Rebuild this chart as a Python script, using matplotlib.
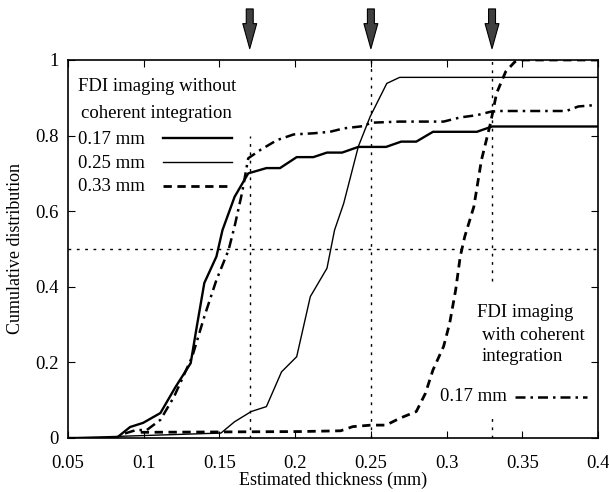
import numpy as np
import matplotlib.pyplot as plt

plt.rcParams['font.family'] = ['Liberation Serif', 'DejaVu Serif']

# 0.17 mm, without coherent integration
x_a = [0.05, 0.082, 0.091, 0.0996, 0.111, 0.121, 0.131, 0.135, 0.140, 0.148, 0.152,
       0.160, 0.169, 0.181, 0.19, 0.201, 0.212, 0.221, 0.231, 0.2417, 0.26, 0.27,
       0.28, 0.291, 0.32, 0.33, 0.4]
y_a = [0, 0, 0.029, 0.04, 0.066, 0.135, 0.198, 0.294, 0.41, 0.48, 0.55,
       0.638, 0.70, 0.714, 0.714, 0.743, 0.743, 0.755, 0.755, 0.77, 0.77, 0.784,
       0.784, 0.81, 0.81, 0.824, 0.824]

# 0.25 mm, without coherent integration
x_b = [0.05, 0.151, 0.160, 0.171, 0.181, 0.191, 0.201, 0.210, 0.221, 0.226, 0.232,
       0.2417, 0.2495, 0.2605, 0.269, 0.4]
y_b = [0, 0.013, 0.043, 0.07, 0.083, 0.175, 0.215, 0.374, 0.449, 0.55, 0.62,
       0.771, 0.85, 0.938, 0.954, 0.954]

# 0.33 mm, without coherent integration
x_c = [0.098, 0.203, 0.23, 0.238, 0.25, 0.26, 0.269, 0.28, 0.286, 0.291, 0.298,
       0.302, 0.306, 0.309, 0.312, 0.318, 0.323, 0.329, 0.333, 0.339, 0.345, 0.351, 0.4]
y_c = [0.015, 0.017, 0.019, 0.03, 0.034, 0.034, 0.052, 0.07, 0.118, 0.18, 0.242,
       0.303, 0.392, 0.48, 0.533, 0.612, 0.735, 0.833, 0.912, 0.969, 0.995, 1.0, 1.0]

# 0.17 mm, with coherent integration
x_d = [0.0876, 0.095, 0.102, 0.111, 0.12, 0.132, 0.14, 0.148, 0.156, 0.160, 0.165,
       0.169, 0.177, 0.188, 0.199, 0.212, 0.223, 0.232, 0.245, 0.25, 0.269, 0.298,
       0.309, 0.32, 0.329, 0.335, 0.379, 0.387, 0.399]
y_d = [0.012, 0.021, 0.021, 0.048, 0.109, 0.215, 0.321, 0.418, 0.497, 0.56, 0.65,
       0.74, 0.762, 0.788, 0.803, 0.806, 0.81, 0.819, 0.825, 0.834, 0.837, 0.837,
       0.848, 0.854, 0.863, 0.865, 0.865, 0.877, 0.881]

marks = [0.17, 0.25, 0.33]
xticks = [0.05, 0.1, 0.15, 0.2, 0.25, 0.3, 0.35, 0.4]
xtick_labels = ['0.05', '0.1', '0.15', '0.2', '0.25', '0.3', '0.35', '0.4']
yticks = [0, 0.2, 0.4, 0.6, 0.8, 1]
ytick_labels = ['0', '0.2', '0.4', '0.6', '0.8', '1']

fig = plt.figure(figsize=(6.09, 4.92), dpi=100)
ax = fig.add_axes([0.1117, 0.1098, 0.8703, 0.7683])

ax.plot(x_a, y_a, c='k', lw=1.7)
ax.plot(x_b, y_b, c='k', lw=1.0)
ax.plot(x_c, y_c, c='k', lw=2.0, ls=(0, (3, 2)))
ax.plot(x_d, y_d, c='k', lw=1.8, ls=(0, (4, 2, 1, 2)))

# reference lines
ax.axhline(0.5, c='k', lw=1.0, ls=(0, (2, 4)))
ax.vlines(marks[0], 0, 0.8, colors='k', lw=1.0, linestyles=(0, (2, 4)))
ax.vlines(marks[1], 0, 1.0, colors='k', lw=1.0, linestyles=(0, (2, 4)))
ax.vlines(marks[2], 0.415, 1.0, colors='k', lw=1.0, linestyles=(0, (2, 4)))
ax.vlines(marks[2], 0, 0.065, colors='k', lw=1.0, linestyles=(0, (2, 4)))

# arrows on top
for m in marks:
    ax.annotate('', xy=(m, 1.03), xytext=(m, 1.135), xycoords='data',
                annotation_clip=False,
                arrowprops=dict(facecolor='#404040', edgecolor='black', lw=0.8,
                                width=5.0, headwidth=10, headlength=18, shrink=0))

# legend texts
ax.text(0.0565, 0.93, 'FDI imaging without', fontsize=13.5, va='center')
ax.text(0.0585, 0.858, 'coherent integration', fontsize=13.5, va='center')
leg_labels = ['0.17 mm', '0.25 mm', '0.33 mm']
leg_y = [0.79, 0.727, 0.664]
leg_styles = [('-', 1.7), ('-', 1.0), ((0, (3, 2)), 2.0)]
for lab, ly, (ls, lw) in zip(leg_labels, leg_y, leg_styles):
    ax.text(0.0565, ly, lab, fontsize=13.5, va='center')
    ax.plot([0.1128, 0.1583], [ly + 0.003, ly + 0.003], c='k', ls=ls, lw=lw)

ax.text(0.320, 0.332, 'FDI imaging', fontsize=13.5, va='center')
ax.text(0.3234, 0.272, 'with coherent', fontsize=13.5, va='center')
ax.text(0.3234, 0.216, 'integration', fontsize=13.5, va='center')
ax.text(0.2957, 0.11, '0.17 mm', fontsize=13.5, va='center')
ax.plot([0.345, 0.3928], [0.108, 0.108], c='k', lw=1.8, ls=(0, (4, 2, 1, 2)))

ax.set_xlim(0.05, 0.4)
ax.set_ylim(0, 1.0)
ax.set_xticks(xticks)
ax.set_xticklabels(xtick_labels)
ax.set_yticks(yticks)
ax.set_yticklabels(ytick_labels)
ax.tick_params(direction='in', top=True, right=True, labelsize=13.5, length=5)
ax.tick_params(axis='x', pad=12)
ax.tick_params(axis='y', pad=7)
for s in ax.spines.values():
    s.set_linewidth(1.2)

ax.set_xlabel('Estimated thickness (mm)', fontsize=13, labelpad=0)
ax.set_ylabel('Cumulative distribution', fontsize=13, labelpad=8)

plt.savefig('out.png', dpi=100)
